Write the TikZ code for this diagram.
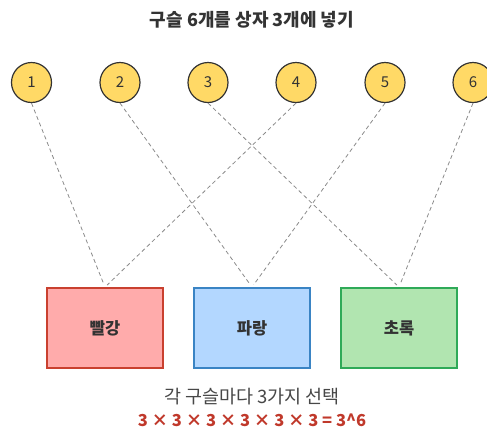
\documentclass[tikz,border=0pt]{standalone}
\usepackage{fontspec}
\setmainfont{Noto Sans CJK KR}
\usepackage{xcolor}
\definecolor{marbleyellow}{HTML}{FFD966}
\definecolor{inkdark}{HTML}{333333}
\definecolor{linkgray}{HTML}{8A8A8A}
\definecolor{redfill}{HTML}{FFABAB}
\definecolor{redline}{HTML}{C9402F}
\definecolor{bluefill}{HTML}{B3D7FF}
\definecolor{blueline}{HTML}{3A84C4}
\definecolor{greenfill}{HTML}{B1E5B0}
\definecolor{greenline}{HTML}{2FAA58}
\definecolor{sumred}{HTML}{C0392B}
\usepackage{tikz}

\begin{document}
\begin{tikzpicture}[x=1pt, y=-1pt,
    marble/.style={circle, draw=inkdark, fill=marbleyellow, line width=1.2pt,
      minimum size=40pt, inner sep=0pt, text=inkdark, font=\fontsize{15}{17}\selectfont},
    bin/.style={rectangle, line width=1.8pt, minimum width=116pt, minimum height=80pt,
      text=inkdark, font=\fontsize{16.5}{18}\selectfont\bfseries},
    link/.style={draw=linkgray, line width=0.8pt, dash pattern=on 4pt off 3pt, shorten >=3pt}]
        \useasboundingbox (0,0) rectangle (487,432);
        % Title
        \node[font=\fontsize{18}{20}\selectfont\bfseries, text=inkdark] (title) at (252,20)
          {구슬 6개를 상자 3개에 넣기};
        % Marbles
        \node[marble] (m1) at (31.5,82.5) {1};
        \node[marble] (m2) at (120,82.5) {2};
        \node[marble] (m3) at (208,82.5) {3};
        \node[marble] (m4) at (296,82.5) {4};
        \node[marble] (m5) at (385,82.5) {5};
        \node[marble] (m6) at (473,82.5) {6};
        % Boxes
        \node[bin, draw=redline, fill=redfill] (red) at (105,328) {빨강};
        \node[bin, draw=blueline, fill=bluefill] (blue) at (252,328) {파랑};
        \node[bin, draw=greenline, fill=greenfill] (green) at (399,328) {초록};
        % Links (marble -> box)
        \draw[link] (m1.south) -- (red.north);
        \draw[link] (m2.south) -- (blue.north);
        \draw[link] (m3.south) -- (green.north);
        \draw[link] (m4.south) -- (red.north);
        \draw[link] (m5.south) -- (blue.north);
        \draw[link] (m6.south) -- (green.north);
        % Count
        \node[font=\fontsize{18.5}{20}\selectfont, text=inkdark!90] (note) at (252,397)
          {각 구슬마다 3가지 선택};
        \node[font=\fontsize{16.5}{18}\selectfont\bfseries, text=sumred] (count) at (252,420)
          {3 × 3 × 3 × 3 × 3 × 3 = 3\^{}6};
      \end{tikzpicture}
\end{document}
